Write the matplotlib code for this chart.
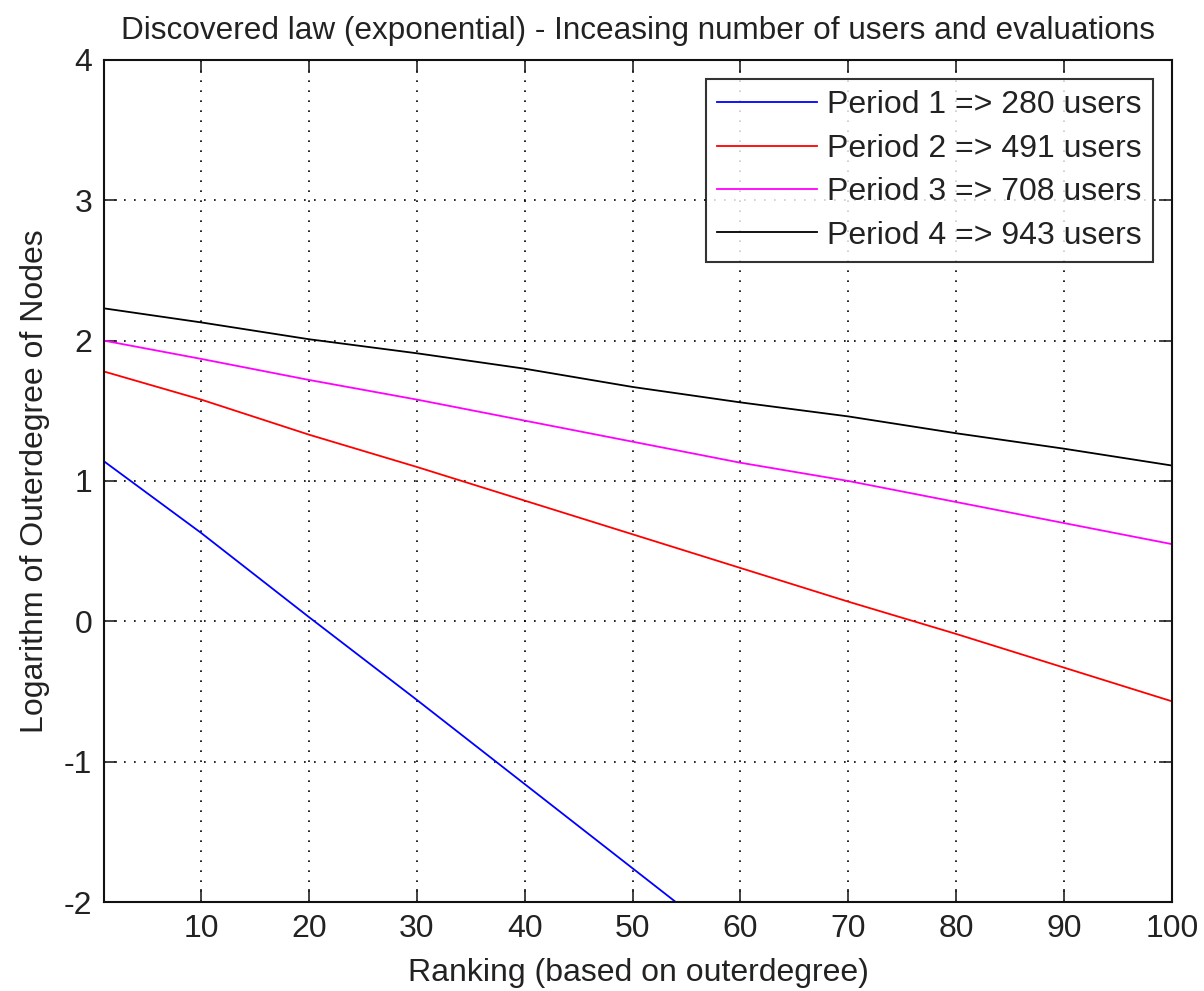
import matplotlib
matplotlib.use("Agg")
import matplotlib.pyplot as plt

plt.rcParams['font.family'] = ['Liberation Sans', 'DejaVu Sans']
plt.rcParams['axes.unicode_minus'] = False

# Log of outdegree vs. ranking, one fitted exponential law per period
rank_p1 = [1, 10, 20, 30, 40, 50, 54]
log_p1 = [1.14, 0.63, 0.03, -0.56, -1.16, -1.76, -2.0]

rank = [1, 10, 20, 30, 40, 50, 60, 70, 80, 90, 100]
log_p2 = [1.78, 1.58, 1.33, 1.10, 0.86, 0.62, 0.38, 0.14, -0.09, -0.33, -0.57]
log_p3 = [2.00, 1.87, 1.72, 1.58, 1.43, 1.28, 1.13, 1.00, 0.85, 0.70, 0.55]
log_p4 = [2.23, 2.13, 2.01, 1.91, 1.80, 1.67, 1.56, 1.46, 1.34, 1.23, 1.11]

labels = ["Period 1 => 280 users", "Period 2 => 491 users",
          "Period 3 => 708 users", "Period 4 => 943 users"]
colors = ["#0000ff", "#ff0000", "#ff00ff", "#000000"]

xticks = [10, 20, 30, 40, 50, 60, 70, 80, 90, 100]
yticks = [-2, -1, 0, 1, 2, 3, 4]

FS = 23
TXT = '#222222'

fig = plt.figure(figsize=(12.04, 9.91), dpi=100)
ax = fig.add_axes([0.0864, 0.0898, 0.8870, 0.8497])

series = [(rank_p1, log_p1), (rank, log_p2), (rank, log_p3), (rank, log_p4)]
for (xs, ys), lab, col in zip(series, labels, colors):
    ax.plot(xs, ys, color=col, lw=1.3, label=lab)

ax.set_xlim(1, 100)
ax.set_ylim(-2, 4)
ax.set_xticks(xticks)
ax.set_yticks(yticks)
ax.grid(True, color='black', linestyle=(0, (1, 5)), linewidth=1.2)

ax.tick_params(direction='in', length=9.5, width=1.2, top=True, right=True,
               labelsize=FS, colors=TXT)
ax.tick_params(axis='x', pad=8.5)
ax.tick_params(axis='y', pad=8.5)
for s in ax.spines.values():
    s.set_linewidth(1.5)
    s.set_color('#111111')

ax.set_title("Discovered law (exponential) - Inceasing number of users and evaluations",
             fontsize=22.7, pad=15, color=TXT)
ax.set_xlabel("Ranking (based on outerdegree)", fontsize=FS, labelpad=10, color=TXT)
ax.set_ylabel("Logarithm of Outerdegree of Nodes", fontsize=FS, labelpad=10, color=TXT)

leg = ax.legend(loc='upper right', fontsize=FS, frameon=True, fancybox=False,
                edgecolor='black', handlelength=3.15, handletextpad=0.3,
                labelspacing=0.42, borderpad=0.35, borderaxespad=0.6)
leg.get_frame().set_linewidth(1.5)
for t in leg.get_texts():
    t.set_color(TXT)

fig.savefig("out.png", dpi=100, facecolor='white')
